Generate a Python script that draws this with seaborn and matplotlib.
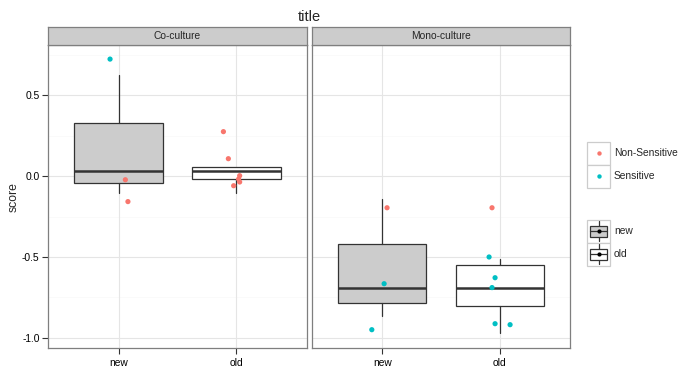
import numpy as np
import pandas as pd
import matplotlib
matplotlib.use("Agg")
import matplotlib.pyplot as plt
from matplotlib.patches import Rectangle
import seaborn as sns

# ---- data ----
panels = ["Co-culture", "Mono-culture"]
groups = ["new", "old"]
box_fill = {"new": "#CCCCCC", "old": "#FFFFFF"}
sens_palette = {"Non-Sensitive": "#F8766D", "Sensitive": "#00BFC4"}

# box stats per panel, order new, old: whisker low, q1, median, q3, whisker high
box_whislo = {"Co-culture": [-0.107, -0.103], "Mono-culture": [-0.866, -0.971]}
box_q1 = {"Co-culture": [-0.045, -0.020], "Mono-culture": [-0.786, -0.802]}
box_med = {"Co-culture": [0.033, 0.033], "Mono-culture": [-0.694, -0.694]}
box_q3 = {"Co-culture": [0.325, 0.054], "Mono-culture": [-0.422, -0.551]}
box_whishi = {"Co-culture": [0.623, 0.054], "Mono-culture": [-0.142, -0.512]}

# jittered points
pt_panel = (["Co-culture"] * 9) + (["Mono-culture"] * 9)
pt_group = ["new", "new", "new", "old", "old", "old", "old", "old", "old",
            "new", "new", "new", "old", "old", "old", "old", "old", "old"]
pt_jitter = [-0.073, 0.057, 0.079, -0.110, -0.068, 0.028, 0.019, 0.028, -0.023,
             0.040, 0.015, -0.090, -0.065, -0.090, -0.039, -0.065, -0.039, 0.089]
pt_score = [0.722, -0.023, -0.158, 0.274, 0.107, 0.002, -0.019, -0.037, -0.060,
            -0.196, -0.665, -0.949, -0.196, -0.500, -0.628, -0.689, -0.912, -0.918]
pt_sens = ["Sensitive", "Non-Sensitive", "Non-Sensitive",
           "Non-Sensitive", "Non-Sensitive", "Non-Sensitive", "Non-Sensitive",
           "Non-Sensitive", "Non-Sensitive",
           "Non-Sensitive", "Sensitive", "Sensitive",
           "Non-Sensitive", "Sensitive", "Sensitive", "Sensitive", "Sensitive", "Sensitive"]

y_major = [-1.0, -0.5, 0.0, 0.5]
y_minor = [-0.75, -0.25, 0.25, 0.75]
y_labels = ["-1.0", "-0.5", "0.0", "0.5"]

df = pd.DataFrame({"panel": pt_panel, "group": pt_group, "jitter": pt_jitter,
                   "score": pt_score, "sens": pt_sens})
df["x"] = df["group"].map({g: i for i, g in enumerate(groups)}) + df["jitter"]

# ---- figure ----
sns.set_style("white")
plt.rcParams["font.family"] = ["Liberation Sans", "DejaVu Sans"]

W, H = 699, 376
fig = plt.figure(figsize=(W / 100, H / 100), dpi=100)


def frac(x0, y0, x1, y1):
    # pixel box (top-left origin) -> figure fraction rect
    return [x0 / W, 1 - y1 / H, (x1 - x0) / W, (y1 - y0) / H]


panel_px = {"Co-culture": (48, 307), "Mono-culture": (312, 570)}
top, strip_top, bottom = 45, 27, 348
ylim = (-1.062, 0.809)
fs = 7.4

for k, p in enumerate(panels):
    x0, x1 = panel_px[p]
    ax = fig.add_axes(frac(x0, top, x1, bottom))
    ax.set_xlim(-0.6, 1.6)
    ax.set_ylim(*ylim)
    for v in y_minor:
        ax.axhline(v, color="#FAFAFA", lw=0.7, zorder=0)
    for v in y_major:
        ax.axhline(v, color="#E5E5E5", lw=0.8, zorder=0)
    for i in range(len(groups)):
        ax.axvline(i, color="#E5E5E5", lw=0.8, zorder=0)

    stats = []
    for i, g in enumerate(groups):
        stats.append({"whislo": box_whislo[p][i], "q1": box_q1[p][i], "med": box_med[p][i],
                      "q3": box_q3[p][i], "whishi": box_whishi[p][i], "fliers": []})
    bp = ax.bxp(stats, positions=range(len(groups)), widths=0.75, showcaps=False,
                showfliers=False, patch_artist=True,
                boxprops=dict(edgecolor="#333333", linewidth=0.9),
                whiskerprops=dict(color="#333333", linewidth=0.9),
                medianprops=dict(color="#333333", linewidth=1.8))
    for patch, g in zip(bp["boxes"], groups):
        patch.set_facecolor(box_fill[g])
        patch.set_zorder(2)

    sub = df[df["panel"] == p]
    sns.scatterplot(data=sub, x="x", y="score", hue="sens", palette=sens_palette,
                    s=14, linewidth=0, legend=False, ax=ax, zorder=3)

    ax.set_xlim(-0.6, 1.6)
    ax.set_ylim(*ylim)
    ax.set_xticks(range(len(groups)))
    ax.set_xticklabels(groups, fontsize=fs, color="#000000")
    ax.set_yticks(y_major)
    if k == 0:
        ax.set_yticklabels(y_labels, fontsize=fs, color="#000000")
        ax.tick_params(axis="y", length=4, width=0.8, color="#333333", pad=2, left=True)
    else:
        ax.tick_params(axis="y", left=False, labelleft=False)
    ax.tick_params(axis="x", length=4, width=0.8, color="#333333", pad=3, bottom=True)
    ax.set_xlabel("")
    ax.set_ylabel("")
    for s in ax.spines.values():
        s.set_color("#7F7F7F")
        s.set_linewidth(0.9)

    sax = fig.add_axes(frac(x0, strip_top, x1, top))
    sax.set_facecolor("#CCCCCC")
    sax.set_xticks([])
    sax.set_yticks([])
    for s in sax.spines.values():
        s.set_color("#7F7F7F")
        s.set_linewidth(0.9)
    sax.text(0.5, 0.5, p, ha="center", va="center", fontsize=fs, transform=sax.transAxes)

fig.text(309 / W, 1 - 17 / H, "title", ha="center", va="center", fontsize=10.5)
fig.text(14 / W, 1 - 197 / H, "score", ha="center", va="center", rotation=90, fontsize=8.8)

# ---- legends drawn in pixel space ----
lax = fig.add_axes([0, 0, 1, 1], facecolor="none")
lax.set_xlim(0, W)
lax.set_ylim(H, 0)
lax.axis("off")

kx, kw, kh = 587, 23, 23
for j, name in enumerate(sens_palette):
    ky = 141.5 + j * kh
    lax.add_patch(Rectangle((kx, ky), kw, kh, facecolor="white", edgecolor="#CCCCCC", lw=0.9))
    lax.scatter([kx + kw / 2], [ky + kh / 2], s=10, color=sens_palette[name], linewidths=0)
    lax.text(kx + kw + 4, ky + kh / 2, name, ha="left", va="center", fontsize=fs)

for j, g in enumerate(groups):
    ky = 219.5 + j * kh
    cx, cy = kx + kw / 2, ky + kh / 2
    lax.add_patch(Rectangle((kx, ky), kw, kh, facecolor="white", edgecolor="#CCCCCC", lw=0.9))
    lax.plot([cx, cx], [ky + 1.5, ky + kh - 1.5], color="#333333", lw=0.9)
    lax.add_patch(Rectangle((kx + 3, cy - 5.5), kw - 6, 11, facecolor=box_fill[g],
                            edgecolor="#333333", lw=0.9, zorder=3))
    lax.plot([kx + 3, kx + kw - 3], [cy, cy], color="#333333", lw=0.9, zorder=4)
    lax.scatter([cx], [cy], s=9, color="black", linewidths=0, zorder=5)
    lax.text(kx + kw + 4, cy, g, ha="left", va="center", fontsize=fs)

fig.savefig("out.png", dpi=100)
